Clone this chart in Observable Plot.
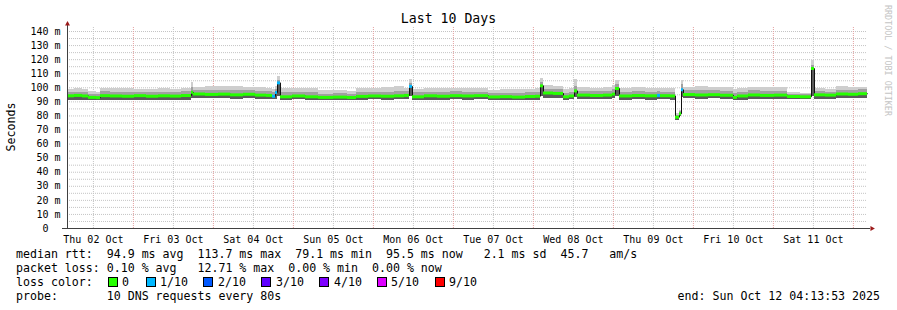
<!DOCTYPE html>
<html><head><meta charset="utf-8">
<script src="https://cdn.jsdelivr.net/npm/d3@7"></script>
<script src="https://cdn.jsdelivr.net/npm/@observablehq/plot@0.6"></script>
<style>
html,body{margin:0;padding:0;background:#fff;overflow:hidden;}
#wrap{position:relative;width:897px;height:310px;font-family:"DejaVu Sans Mono",monospace;color:#000;}
#wrap svg{position:absolute;left:0;top:0;}
.t{position:absolute;white-space:pre;font-size:11.6px;line-height:14px;}
.sq{position:absolute;width:8px;height:8px;border:1px solid #000;}
</style></head><body><div id="wrap"></div>
<script>
// ---- data ----
const sampleHours = [0,2.1,4.5,6.3,8.7,9.9,12.9,16.5,20.1,23.7,27.3,30.9,34.2,37.2,37.8,41.4,45.3,48.9,52.8,56.4,59.7,61.5,62.4,63.0,63.9,67.5,71.4,75.3,79.8,84.0,86.7,90.3,94.2,98.1,101.1,102.6,103.5,107.1,111.0,114.9,118.5,122.1,126.3,129.9,133.5,137.4,140.4,141.9,142.8,145.8,148.8,150.6,152.1,153.0,156.9,160.8,163.5,164.4,165.6,169.5,173.4,177.0,177.9,180.9,182.4,183.6,184.2,184.8,188.4,192.3,195.9,199.8,201.0,204.3,207.9,212.1,216.0,219.9,223.2,224.1,227.4,230.7,234.3,237.3];
const medianMs = [94.3,94.6,94.2,93.2,93.0,94.4,94.2,94.0,94.4,94.0,94.3,94.1,94.5,96.8,95.6,95.3,95.5,95.0,95.4,94.8,94.6,94.0,96.7,103.5,93.6,94.2,93.6,93.2,93.4,93.1,93.9,94.2,94.0,94.3,94.6,101.0,93.6,94.3,94.0,94.4,94.2,94.4,93.5,93.7,93.4,93.8,94.0,101.4,96.3,96.0,93.6,94.2,97.8,94.8,94.5,94.8,95.5,99.5,94.2,94.5,94.3,94.6,94.4,94.2,79.1,81.5,98.6,95.2,94.9,95.1,94.7,93.2,94.2,94.9,94.6,94.8,93.8,93.6,113.7,95.0,94.8,95.6,95.4,95.8];
const smokeLowMs = [91.1,91.3,91.1,90.8,90.7,91.3,91.1,91.1,91.3,91.1,91.1,91.1,91.3,92.2,92.2,92.2,92.2,92.0,92.2,91.6,91.6,91.4,92.0,93.5,91.1,91.4,91.1,90.9,90.9,90.9,91.3,91.4,91.3,91.4,91.6,93.5,91.1,91.3,91.3,91.4,91.3,91.4,90.9,91.1,90.9,91.1,91.3,93.5,92.6,92.6,91.1,91.4,93.2,91.6,91.6,91.6,92.1,93.5,91.3,91.4,91.3,91.4,91.4,91.3,76.5,79.5,93.2,92.2,91.9,92.1,91.7,90.9,91.3,91.9,91.7,91.7,91.5,91.4,93.5,91.9,91.7,92.1,92.1,92.3];
const smokeMidMs = [96.5,97.0,96.8,95.5,95.2,97.2,97.0,96.8,97.0,96.5,97.0,96.8,97.2,100.0,98.0,98.0,98.2,97.8,98.0,97.5,97.2,97.0,99.0,105.0,96.5,97.0,96.5,95.5,95.8,95.5,97.0,97.0,97.0,97.2,97.3,103.0,96.5,97.0,96.8,97.2,97.0,97.0,96.0,96.3,96.0,96.5,97.0,104.0,99.0,98.6,96.0,97.0,101.0,97.5,97.3,97.5,98.5,102.5,97.0,97.2,97.0,97.2,97.0,97.0,80.5,83.0,102.0,98.0,97.8,98.0,97.5,96.0,97.0,97.8,97.4,97.6,95.5,95.3,116.0,97.3,97.0,98.3,98.2,98.5];
const smokeHighMs = [98.5,99.2,98.8,97.5,97.0,99.8,99.3,99.5,99.0,98.8,99.4,99.0,99.6,104.0,100.5,101.2,100.6,101.0,100.4,100.0,99.5,99.0,101.0,108.0,99.3,99.8,99.5,97.8,98.0,97.6,99.8,99.6,100.0,100.6,99.8,106.0,99.0,99.5,99.2,99.8,99.3,99.5,98.4,98.8,98.6,99.0,99.5,106.5,101.5,101.0,98.8,99.2,105.7,100.0,99.6,100.2,101.5,105.2,99.5,100.0,99.8,99.8,99.6,99.4,82.0,84.0,105.0,100.4,100.6,100.2,100.4,98.6,99.5,100.3,100.0,100.2,96.4,96.2,119.5,99.2,99.0,100.6,100.2,100.4];
const lossTenths = [0,0,0,0,0,0,0,0,0,0,0,0,0,0,0,0,0,0,0,0,0,1,1,1,0,0,0,0,0,0,0,0,0,0,0,1,0,0,0,0,0,0,0,0,0,0,0,0,0,0,0,0,0,0,0,0,0,0,0,0,0,1,0,0,0,0,1,0,0,0,0,0,0,0,0,0,0,0,0,0,0,0,0,0];
const lossLabels = ["0","1/10","2/10","3/10","4/10","5/10","9/10"];
const lossKeys = [0,1,2,3,4,5,9];
const lossColorList = ["#26ff00","#00b8ff","#0059ff","#5e00ff","#7e00ff","#dd00ff","#ff0000"];
const dayLabels = ["Thu 02 Oct","Fri 03 Oct","Sat 04 Oct","Sun 05 Oct","Mon 06 Oct","Tue 07 Oct","Wed 08 Oct","Thu 09 Oct","Fri 10 Oct","Sat 11 Oct"];
const yTickValues = [0,10,20,30,40,50,60,70,80,90,100,110,120,130,140];
const yGridValues = [5,10,15,20,25,30,35,40,45,50,55,60,65,70,75,80,85,90,95,100,105,110,115,120,125,130,135,140];
const titleText = "Last 10 Days";
const statLine1 = "median rtt:  94.9 ms avg  113.7 ms max  79.1 ms min  95.5 ms now   2.1 ms sd  45.7   am/s";
const statLine2 = "packet loss: 0.10 % avg   12.71 % max  0.00 % min  0.00 % now";
const probeLine = "probe:       10 DNS requests every 80s";
const endLine = "end: Sun Oct 12 04:13:53 2025";

// ---- build ----
const startMs = Date.UTC(2025, 9, 2, 4, 13, 53);
const spanHours = 240;
const toDate = h => new Date(startMs + h * 3600e3);
const lossColors = Object.fromEntries(lossKeys.map((k, i) => [k, lossColorList[i]]));
const rows = sampleHours.map((h, i) => ({
  t: toDate(h),
  t2: toDate(i + 1 < sampleHours.length ? sampleHours[i + 1] : spanHours),
  med: medianMs[i], lo: smokeLowMs[i], mid: smokeMidMs[i], hi: smokeHighMs[i],
  color: lossColors[lossTenths[i]]
}));
const lineRows = rows.map(r => ({t: r.t, med: r.med})).concat([{t: toDate(spanHours), med: rows[rows.length - 1].med}]);
const noons = dayLabels.map((_, i) => new Date(Date.UTC(2025, 9, 2 + i, 12)));
const midnights = dayLabels.map((_, i) => new Date(Date.UTC(2025, 9, 3 + i)));

const arrowUp = {draw(ctx, size) { const s = Math.sqrt(size) / 2; ctx.moveTo(0, -s * 1.1); ctx.lineTo(s, s * 0.7); ctx.lineTo(-s, s * 0.7); ctx.closePath(); }};
const arrowRight = {draw(ctx, size) { const s = Math.sqrt(size) / 2; ctx.moveTo(s * 1.1, 0); ctx.lineTo(-s * 0.7, -s); ctx.lineTo(-s * 0.7, s); ctx.closePath(); }};

const chart = Plot.plot({
  width: 897, height: 310,
  marginLeft: 67, marginRight: 30, marginTop: 27, marginBottom: 82,
  x: {type: "utc", domain: [toDate(0), toDate(spanHours)]},
  y: {domain: [0, 142.86]},
  color: {type: "identity"},
  style: {background: "transparent", fontFamily: "DejaVu Sans Mono", fontSize: "10px", color: "#000", overflow: "visible"},
  marks: [
    Plot.ruleY(yGridValues, {stroke: "#c4c4c4", strokeDasharray: "1,1"}),
    Plot.ruleX(noons, {stroke: "#c4c4c4", strokeDasharray: "1,1"}),
    Plot.ruleX(midnights, {stroke: "#e3a0a0", strokeDasharray: "1,1"}),
    Plot.rect(rows, {x1: "t", x2: "t2", y1: "lo", y2: "hi", fill: "#cecece", shapeRendering: "crispEdges"}),
    Plot.rect(rows, {x1: "t", x2: "t2", y1: "lo", y2: "mid", fill: "#a0a0a0", shapeRendering: "crispEdges"}),
    Plot.rect(rows, {x1: "t", x2: "t2", y1: "lo", y2: "med", fill: "#5a5a5a", shapeRendering: "crispEdges"}),
    Plot.line(lineRows, {x: "t", y: "med", curve: "step-after", stroke: "#111", strokeWidth: 1}),
    Plot.ruleY(rows, {x1: "t", x2: "t2", y: "med", stroke: "color", strokeWidth: 3, strokeLinecap: "butt"}),
    Plot.ruleX([toDate(0)], {y1: 0, y2: 144.5, stroke: "#404040"}),
    Plot.ruleY([0], {x1: toDate(-1.5), x2: toDate(240.9), stroke: "#404040"}),
    Plot.dot([toDate(0)], {x: d => d, y: () => 145.6, symbol: arrowUp, r: 2.8, fill: "#9c1a1a", stroke: null}),
    Plot.dot([toDate(241.4)], {x: d => d, y: () => 0, symbol: arrowRight, r: 2.8, fill: "#9c1a1a", stroke: null}),
    Plot.axisY(yTickValues, {tickSize: 0, tickPadding: 7, fontSize: 10, tickFormat: d => d === 0 ? "0\u00a0\u00a0" : `${d} m`}),
    Plot.axisX(noons, {tickSize: 0, tickPadding: 7, fontSize: 10, tickFormat: d => dayLabels[d.getUTCDate() - 2]})
  ]
});

const wrap = document.getElementById("wrap");
wrap.appendChild(chart);

function addText(txt, css) {
  const d = document.createElement("div");
  d.className = "t";
  d.textContent = txt;
  Object.assign(d.style, css);
  wrap.appendChild(d);
  return d;
}
addText(titleText, {left: "0px", width: "897px", textAlign: "center", top: "11px", fontSize: "13.2px", lineHeight: "16px"});
addText("Seconds", {left: "11px", top: "127px", transform: "translate(-50%,-50%) rotate(-90deg)", fontSize: "11.6px"});
addText("RRDTOOL / TOBI OETIKER", {left: "883px", top: "5px", writingMode: "vertical-rl", fontSize: "8.4px", lineHeight: "9px", color: "#c4c4c4"});
addText(statLine1, {left: "16px", top: "247px"});
addText(statLine2, {left: "16px", top: "261px"});
addText("loss color:", {left: "16px", top: "275px"});
const sqX = [108, 146, 203, 261, 319, 377, 435];
const lblX = [122, 160, 218, 276, 334, 391, 449];
lossLabels.forEach((lab, i) => {
  const s = document.createElement("div");
  s.className = "sq";
  s.style.left = sqX[i] + "px";
  s.style.top = "277px";
  s.style.background = lossColorList[i];
  wrap.appendChild(s);
  addText(lab, {left: lblX[i] + "px", top: "275px"});
});
addText(probeLine, {left: "16px", top: "289px"});
addText(endLine, {right: "17px", top: "289px"});
</script></body></html>
